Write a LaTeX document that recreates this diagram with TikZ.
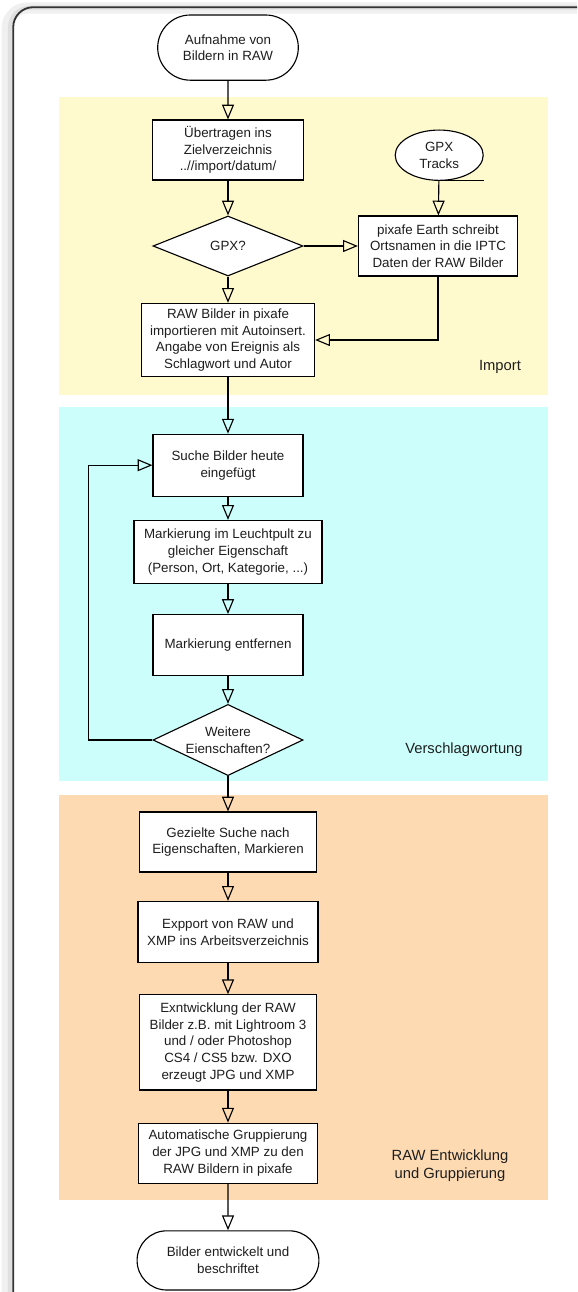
\documentclass[tikz,border=0pt]{standalone}
\usepackage{fontspec}
\setmainfont{Liberation Sans}
\usetikzlibrary{arrows.meta,shapes.geometric,shapes.misc}

\definecolor{importbg}{RGB}{255,249,206}
\definecolor{wortbg}{RGB}{204,255,252}
\definecolor{rawbg}{RGB}{253,218,178}
\definecolor{txt}{RGB}{30,30,30}

\tikzset{
  every node/.style={text=txt, font=\fontsize{9.5}{11.9}\selectfont},
  box/.style={draw, fill=white, line width=0.8pt, align=center, inner sep=2pt},
  decision/.style={diamond, aspect=2, draw, fill=white, line width=0.8pt, align=center, inner sep=0pt},
  terminal/.style={rounded rectangle, draw, fill=white, line width=0.8pt, align=center},
  storage/.style={ellipse, draw, fill=white, line width=0.8pt, align=center},
  flow/.style={-{Triangle[open, length=3.7mm, width=3mm]}, line width=0.8pt},
  phase/.style={font=\fontsize{10.5}{13}\selectfont, align=center}
}

\begin{document}
\begin{tikzpicture}
    \useasboundingbox (0,0) rectangle (14.425,-32.3);
    \clip (0,0) rectangle (14.425,-32.3);

    % frame with shadow
    \draw[black!6, line width=8pt, rounded corners=0.5cm] (0.18,-0.2) rectangle (15,-33);
    \draw[black!12, line width=3pt, rounded corners=0.5cm] (0.25,-0.19) rectangle (15,-33);
    \draw[black!80, line width=1.3pt, rounded corners=0.5cm] (0.33,-0.18) rectangle (15,-33);

    % phases
    \fill[importbg] (1.48,-2.43) rectangle (13.7,-9.88);
    \fill[wortbg] (1.48,-10.18) rectangle (13.7,-19.53);
    \fill[rawbg] (1.48,-19.88) rectangle (13.7,-30.0);

    \node[phase] (import) at (12.5,-9.18) {Import};
    \node[phase] (wort) at (11.6,-18.75) {Verschlagwortung};
    \node[phase] (rawlabel) at (11.25,-29.15) {RAW Entwicklung\\und Gruppierung};

    % steps
    \node[terminal, minimum width=3.75cm, minimum height=1.63cm] (start) at (5.7,-1.19) {Aufnahme von\\Bildern in RAW};
    \node[box, minimum width=3.78cm, minimum height=1.5cm] (uebertragen) at (5.7,-3.75) {Übertragen ins\\Zielverzeichnis\\..//import/datum/};
    \node[storage, minimum width=2.2cm, minimum height=1.25cm] (gpx) at (10.98,-3.88) {GPX\\Tracks};
    \node[decision, minimum width=3.75cm, minimum height=1.5cm] (gpxq) at (5.7,-6.15) {GPX?};
    \node[box, minimum width=3.98cm, minimum height=1.5cm] (earth) at (10.95,-6.15) {pixafe Earth schreibt\\Ortsnamen in die IPTC\\Daten der RAW Bilder};
    \node[box, minimum width=4.33cm, minimum height=1.83cm] (rawimport) at (5.7,-8.5) {RAW Bilder in pixafe\\importieren mit Autoinsert.\\Angabe von Ereignis als\\Schlagwort und Autor};

    \node[box, minimum width=3.75cm, minimum height=1.55cm] (suche) at (5.7,-11.63) {Suche Bilder heute\\eingefügt};
    \node[box, minimum width=4.7cm, minimum height=1.58cm] (markierung) at (5.7,-13.8) {Markierung im Leuchtpult zu\\gleicher Eigenschaft\\(Person, Ort, Kategorie, ...)};
    \node[box, minimum width=3.75cm, minimum height=1.53cm] (entfernen) at (5.7,-16.13) {Markierung entfernen};
    \node[decision, minimum width=3.75cm, minimum height=1.78cm] (weitere) at (5.7,-18.5) {Weitere\\Eienschaften?};

    \node[box, minimum width=4.43cm, minimum height=1.5cm] (gezielt) at (5.7,-21.05) {Gezielte Suche nach\\Eigenschaften, Markieren};
    \node[box, minimum width=4.5cm, minimum height=1.53cm] (export) at (5.7,-23.3) {Expport von RAW und\\XMP ins Arbeitsverzeichnis};
    \node[box, minimum width=4.43cm, minimum height=2.38cm] (entwicklung) at (5.7,-26.06) {Exntwicklung der RAW\\Bilder z.B. mit Lightroom 3\\und / oder Photoshop\\CS4 / CS5 bzw. DXO\\erzeugt JPG und XMP};
    \node[box, minimum width=4.48cm, minimum height=1.5cm] (gruppierung) at (5.7,-28.83) {Automatische Gruppierung\\der JPG und XMP zu den\\RAW Bildern in pixafe};
    \node[terminal, minimum width=4.78cm, minimum height=1.48cm] (ende) at (5.7,-31.51) {Bilder entwickelt und\\beschriftet};

    % connectors
    \draw[line width=0.8pt] (gpx.south) -- (gpx.south -| gpx.east);
    \draw[flow] (start) -- (uebertragen);
    \draw[flow] (uebertragen) -- (gpxq);
    \draw[flow] (gpx) -- (earth);
    \draw[flow] (gpxq) -- (earth);
    \draw[flow] (gpxq) -- (rawimport);
    \draw[flow] (earth.south) |- (rawimport.east);
    \draw[flow] (rawimport) -- (suche);
    \draw[flow] (suche) -- (markierung);
    \draw[flow] (markierung) -- (entfernen);
    \draw[flow] (entfernen) -- (weitere);
    \draw[flow] (weitere.west) -- ++(-1.6,0) |- (suche.west);
    \draw[flow] (weitere) -- (gezielt);
    \draw[flow] (gezielt) -- (export);
    \draw[flow] (export) -- (entwicklung);
    \draw[flow] (entwicklung) -- (gruppierung);
    \draw[flow] (gruppierung) -- (ende);
\end{tikzpicture}
\end{document}
